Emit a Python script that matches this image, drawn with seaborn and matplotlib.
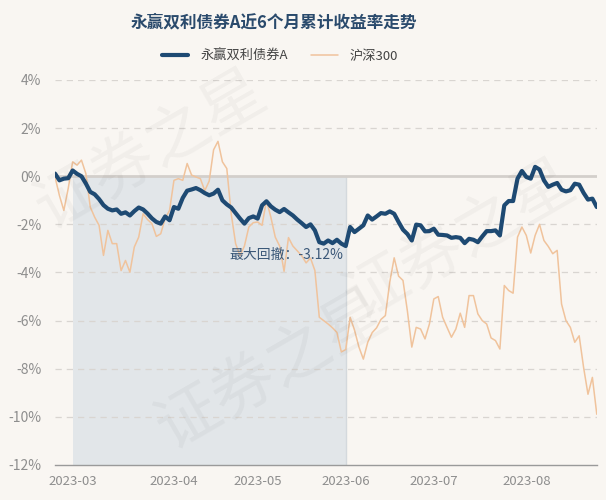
import numpy as np
import pandas as pd
import matplotlib
matplotlib.use("Agg")
import matplotlib.pyplot as plt
import seaborn as sns

# trading days, 2023-02-23 .. 2023-08-23 (China holidays removed)
holidays = ["2023-04-05", "2023-05-01", "2023-05-02", "2023-05-03",
            "2023-06-22", "2023-06-23"]
dates = pd.bdate_range("2023-02-23", "2023-08-23")
dates = dates[~dates.isin(pd.to_datetime(holidays))]

fund_name = "永赢双利债券A"
index_name = "沪深300"

fund_ret = [
    0.11, -0.17, -0.10, -0.08, 0.24, 0.10, 0.00, -0.30, -0.65, -0.75,
    -0.95, -1.20, -1.35, -1.42, -1.38, -1.56, -1.50, -1.63, -1.45, -1.30,
    -1.38, -1.55, -1.75, -1.90, -1.97, -1.67, -1.83, -1.28, -1.35, -0.90,
    -0.60, -0.55, -0.49, -0.58, -0.70, -0.79, -0.72, -0.56, -1.00, -1.17,
    -1.30, -1.53, -1.76, -1.97, -1.74, -1.67, -1.76, -1.21, -1.04, -1.25,
    -1.39, -1.49, -1.36, -1.50, -1.63, -1.80, -1.95, -2.11, -2.00, -2.25,
    -2.74, -2.80, -2.67, -2.78, -2.64, -2.80, -2.90, -2.11, -2.32, -2.18,
    -2.04, -1.63, -1.80, -1.67, -1.53, -1.56, -1.46, -1.56, -1.90, -2.22,
    -2.40, -2.67, -2.01, -2.04, -2.29, -2.28, -2.18, -2.43, -2.44, -2.46,
    -2.56, -2.53, -2.56, -2.78, -2.60, -2.64, -2.74, -2.50, -2.28, -2.28,
    -2.25, -2.46, -1.21, -1.03, -1.03, -0.10, 0.22, -0.03, -0.10, 0.39,
    0.28, -0.17, -0.44, -0.35, -0.28, -0.56, -0.63, -0.58, -0.31, -0.35,
    -0.69, -0.97, -0.93, -1.28,
]

index_ret = [
    -0.03, -0.80, -1.42, -0.50, 0.60, 0.46, 0.67, 0.11, -1.28, -1.70,
    -2.04, -3.29, -2.25, -2.80, -2.80, -3.92, -3.50, -3.99, -2.94, -2.53,
    -1.56, -1.80, -1.97, -2.50, -2.39, -1.76, -1.42, -0.17, -0.10, -0.17,
    0.53, 0.05, -0.03, -0.10, -0.60, -0.20, 1.10, 1.45, 0.60, 0.32,
    -1.56, -2.80, -3.30, -2.90, -2.11, -1.93, -1.90, -2.04, -1.00, -1.70,
    -2.53, -2.90, -3.95, -2.55, -2.90, -3.10, -3.30, -3.60, -3.40, -3.92,
    -5.86, -6.00, -6.14, -6.30, -6.49, -7.30, -7.20, -5.86, -6.40, -7.10,
    -7.60, -6.90, -6.50, -6.30, -5.95, -5.79, -4.40, -3.39, -4.15, -4.33,
    -5.60, -7.10, -6.28, -6.35, -6.76, -6.14, -5.10, -5.00, -5.86, -6.28,
    -6.69, -6.35, -5.69, -6.28, -4.96, -4.96, -5.72, -6.00, -6.14, -6.72,
    -6.83, -7.18, -4.54, -4.75, -4.86, -2.53, -2.11, -2.46, -3.19, -2.46,
    -2.00, -2.67, -2.92, -3.22, -3.08, -5.31, -6.00, -6.28, -6.90, -6.63,
    -7.94, -9.06, -8.36, -9.89,
]

drawdown_label = "最大回撤：-3.12%"
dd_start, dd_end = "2023-03-01", "2023-06-01"
month_ticks = ["2023-03", "2023-04", "2023-05", "2023-06", "2023-07", "2023-08"]
y_ticks = [4, 2, 0, -2, -4, -6, -8, -10, -12]

bg = "#f9f6f2"
blue = "#1e4a73"
orange = "#f0c39c"
grey_txt = "#8e8e8e"

sns.set_theme(style="white")
plt.rcParams["font.family"] = ["Noto Sans CJK SC", "DejaVu Sans"]

df = pd.DataFrame({"pos": np.arange(len(dates)), "date": dates,
                   fund_name: fund_ret, index_name: index_ret})

fig = plt.figure(figsize=(6.06, 5.0), dpi=100, facecolor=bg)
ax = fig.add_axes([0.0908, 0.07, 0.894, 0.77])
ax.set_facecolor(bg)

# faint watermark, kept inside the canvas
for (wx, wy) in [(0.25, 0.70), (0.45, 0.26), (0.76, 0.52)]:
    fig.text(wx, wy, "证券之星", fontsize=46, color="#000000", alpha=0.035,
             rotation=30, ha="center", va="center", zorder=0)

# drawdown shading
i0 = int(np.searchsorted(dates, pd.Timestamp(dd_start)))
i1 = int(np.searchsorted(dates, pd.Timestamp(dd_end)))
ax.fill_between([i0, i1], [-12, -12], [0, 0], color="#e2e6e9", zorder=1, lw=0)
ax.plot([i1, i1], [-12, 0], color="#d4d9dd", lw=1, zorder=1)

# grid
for t in y_ticks:
    if t == 0:
        ax.axhline(0, color="#d3cfcb", lw=2, zorder=2)
    elif t > -12:
        ax.axhline(t, color="#d9d5d1", lw=0.9, ls=(0, (5, 4)), zorder=1.5)

sns.lineplot(data=df, x="pos", y=index_name, ax=ax, color=orange, lw=1.1,
             zorder=3, label=index_name, legend=False)
sns.lineplot(data=df, x="pos", y=fund_name, ax=ax, color=blue, lw=3.0,
             zorder=4, label=fund_name, legend=False)

ax.text(i1 - 0.5, -3.25, drawdown_label, ha="right", va="center",
        fontsize=10, color="#3b5878", zorder=5)

ax.set_xlim(0, len(dates) - 1)
ax.set_ylim(-12, 4)
ax.set_yticks(y_ticks)
ax.set_yticklabels([f"{t}%" for t in y_ticks])
tick_pos = [int(np.searchsorted(dates, pd.Timestamp(m + "-01"))) for m in month_ticks]
ax.set_xticks(tick_pos)
ax.set_xticklabels(month_ticks)
ax.set_xlabel("")
ax.set_ylabel("")
for s in ["top", "right", "left"]:
    ax.spines[s].set_visible(False)
ax.spines["bottom"].set_color("#9a9a9a")
ax.spines["bottom"].set_linewidth(1)
ax.tick_params(axis="x", colors=grey_txt, labelsize=9.5, length=4, width=1,
               direction="out", pad=3)
ax.tick_params(axis="x", color="#9a9a9a")
ax.tick_params(axis="y", colors=grey_txt, labelsize=10, length=0, pad=10)

fig.text(0.452, 0.956, f"{fund_name}近6个月累计收益率走势", ha="center",
         va="center", fontsize=12, fontweight="bold", color="#2a4a6c")

handles = [plt.Line2D([], [], color=blue, lw=3.0),
           plt.Line2D([], [], color=orange, lw=1.1)]
fig.legend(handles, [fund_name, index_name], loc="center",
           bbox_to_anchor=(0.462, 0.888), ncol=2, frameon=False,
           fontsize=9.5, handlelength=2.0, handletextpad=0.9,
           columnspacing=1.8, labelcolor="#444444")

fig.savefig("out.png", dpi=100, facecolor=bg)
